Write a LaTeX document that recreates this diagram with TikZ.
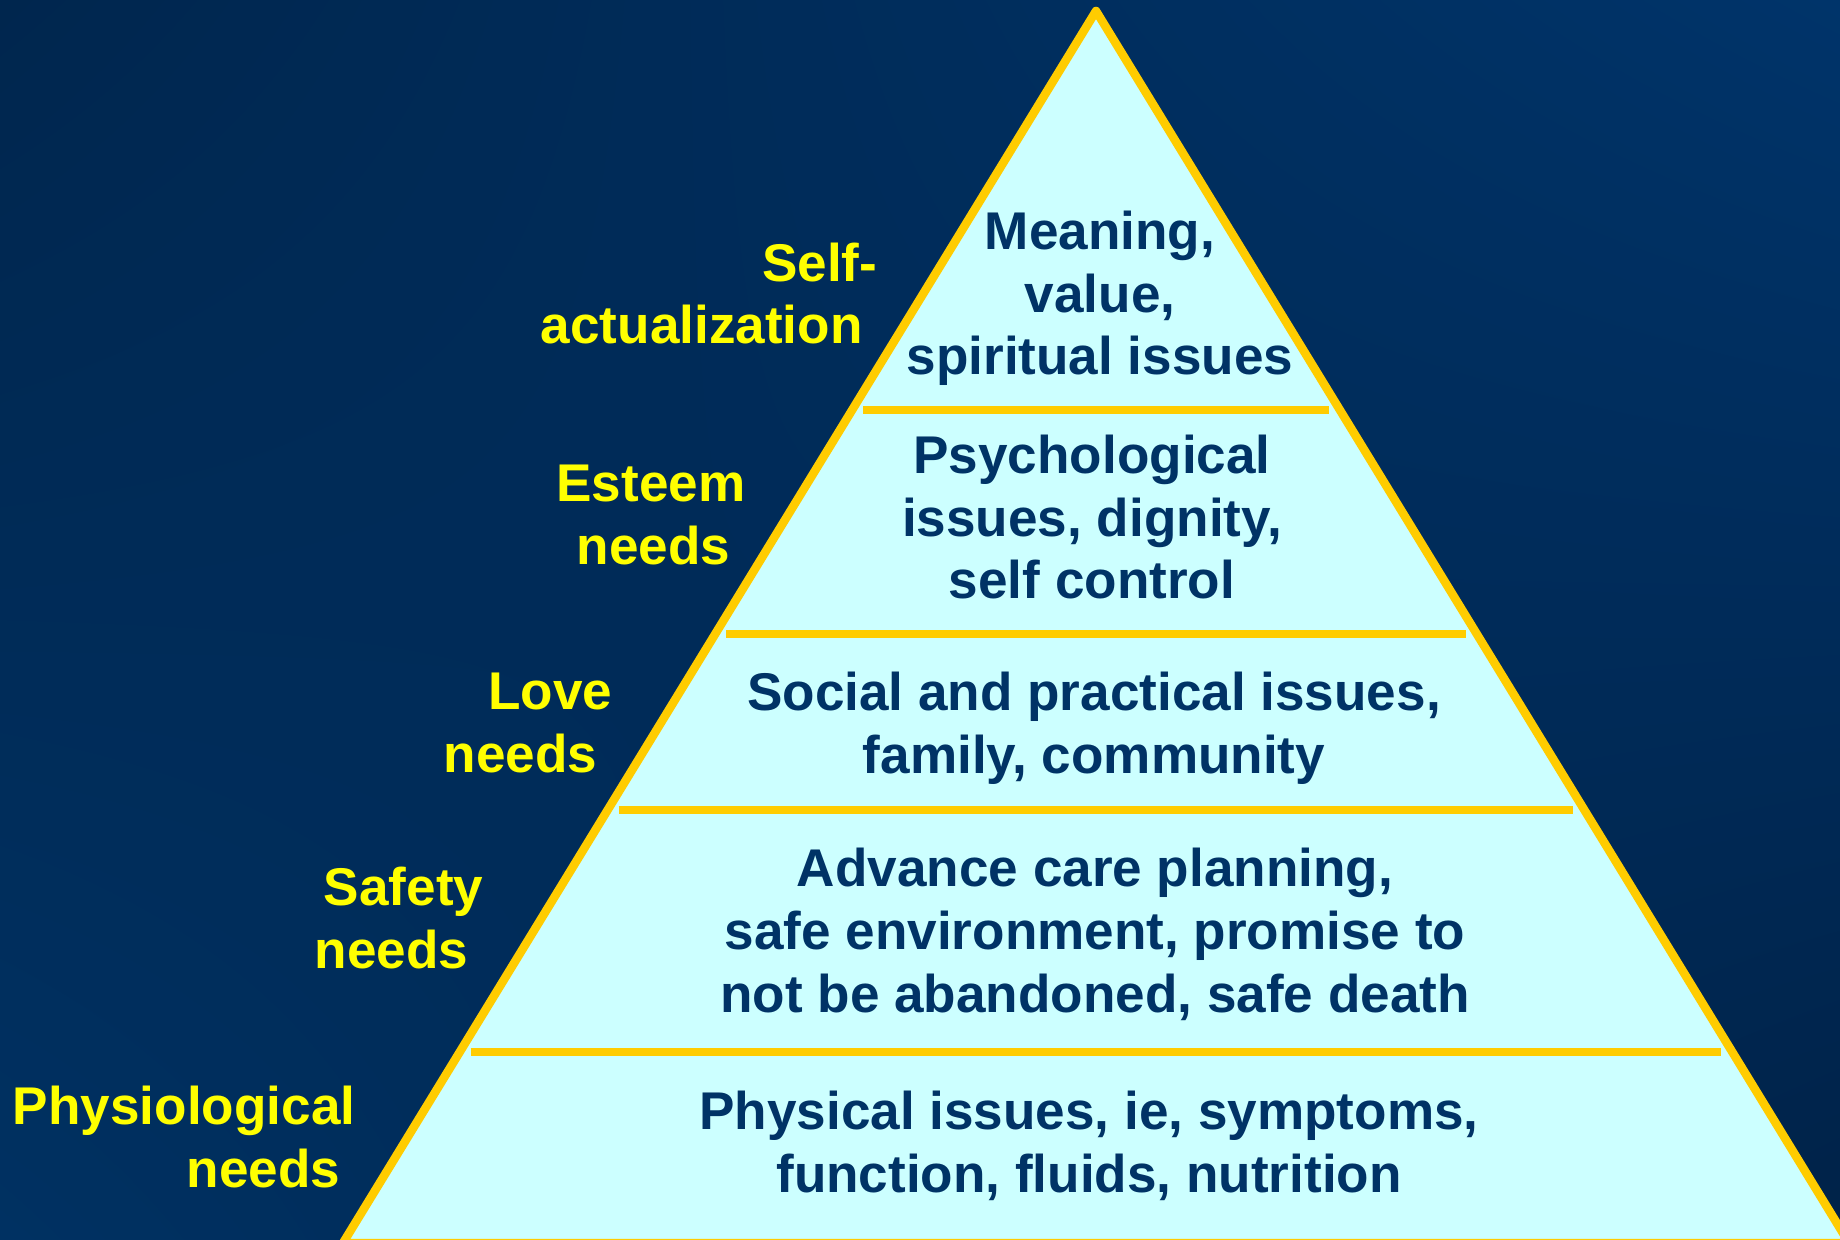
\documentclass[tikz,border=0pt]{standalone}
\usepackage{fontspec}
\setmainfont{Liberation Sans}
\usetikzlibrary{calc,shadings}

\definecolor{bgtopleft}{RGB}{0,38,78}
\definecolor{bgtopright}{RGB}{0,52,106}
\definecolor{bgbottomleft}{RGB}{0,49,98}
\definecolor{bgbottomright}{RGB}{0,34,72}
\definecolor{tierfill}{RGB}{204,255,255}
\definecolor{tierline}{RGB}{255,204,0}
\definecolor{tiertext}{RGB}{0,51,102}
\definecolor{needyellow}{RGB}{255,255,0}

\begin{document}
\begin{tikzpicture}[x=0.01cm, y=-0.01cm]

    \tikzstyle{tier text} = [font=\fontsize{15.1}{17.9}\selectfont\bfseries,
                             text=tiertext, align=center, anchor=base, inner sep=0pt];
    \tikzstyle{need label} = [font=\fontsize{15.1}{17.9}\selectfont\bfseries,
                              text=needyellow, align=right, anchor=base east, inner sep=0pt];
    \tikzstyle{tier divider} = [draw=tierline, line width=0.085cm,
                                shorten <=0.11cm, shorten >=0.11cm];

    % Background
    \useasboundingbox (0,0) rectangle (1840,1240);
    \shade[upper left=bgtopleft, upper right=bgtopright,
           lower left=bgbottomleft, lower right=bgbottomright]
        (0,0) rectangle (1840,1240);

    % Pyramid
    \coordinate (apex) at (1096,11);
    \coordinate (baseL) at (343,1243);
    \coordinate (baseR) at (1849,1243);
    \filldraw[fill=tierfill, draw=tierline, line width=0.085cm, line join=round]
        (apex) -- (baseL) -- (baseR) -- cycle;

    % Tier borders
    \coordinate (d1L) at ($(apex)!0.3239!(baseL)$);
    \coordinate (d1R) at ($(apex)!0.3239!(baseR)$);
    \coordinate (d2L) at ($(apex)!0.5057!(baseL)$);
    \coordinate (d2R) at ($(apex)!0.5057!(baseR)$);
    \coordinate (d3L) at ($(apex)!0.6485!(baseL)$);
    \coordinate (d3R) at ($(apex)!0.6485!(baseR)$);
    \coordinate (d4L) at ($(apex)!0.8450!(baseL)$);
    \coordinate (d4R) at ($(apex)!0.8450!(baseR)$);

    \draw[tier divider] (d1L) -- (d1R);
    \draw[tier divider] (d2L) -- (d2R);
    \draw[tier divider] (d3L) -- (d3R);
    \draw[tier divider] (d4L) -- (d4R);

    % Tier contents (base = last line)
    \node[tier text] (selfT) at (1100,375)
        {Meaning,\\value,\\spiritual issues};
    \node[tier text] (esteemT) at (1092,599)
        {Psychological\\issues, dignity,\\self control};
    \node[tier text] (loveT) at (1094,773)
        {Social and practical issues,\\family, community};
    \node[tier text] (safetyT) at (1095,1012)
        {Advance care planning,\\safe environment, promise to\\not be abandoned, safe death};
    \node[tier text] (physT) at (1089,1192)
        {Physical issues, ie, symptoms,\\function, fluids, nutrition};

    % Needs on the left
    \node[need label] (selfN) at (878,344) {Self-\\actualization\kern.28em};
    \node[need label] (esteemN) at (746,564) {Esteem\\needs\kern.28em};
    \node[need label] (loveN) at (613,772) {Love\\needs\kern.28em};
    \node[need label] (safetyN) at (484,968) {Safety\\needs\kern.28em};
    \node[need label] (physN) at (356,1187) {Physiological\\needs\kern.28em};

\end{tikzpicture}
\end{document}
